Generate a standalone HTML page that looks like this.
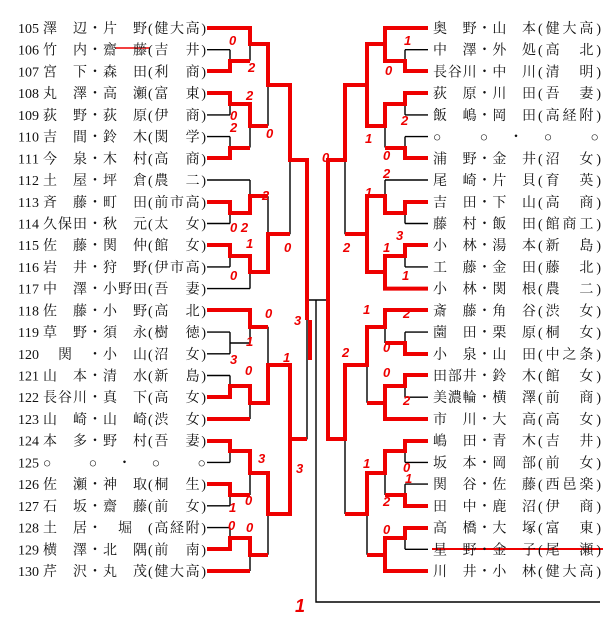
<!DOCTYPE html>
<html><head><meta charset="utf-8"><style>
html,body{margin:0;padding:0;background:#fff;}
svg{display:block;}
.t{font-family:"Liberation Serif","Noto Serif CJK SC","Noto Sans CJK JP",serif;font-size:14px;fill:#111;}
.n{font-family:"Liberation Serif",serif;font-size:14px;fill:#111;}
.r{font-family:"Liberation Sans",sans-serif;font-size:13px;fill:#e00;font-style:italic;font-weight:bold;}
</style></head><body>
<svg width="608" height="624" viewBox="0 0 608 624" xmlns="http://www.w3.org/2000/svg">
<defs>
<g id="br" fill="none" stroke="#000" stroke-width="1.4">
<path d="M207 28H250M207 49.7H230M207 71.4H230M207 93.2H230M207 114.9H230M207 136.6H230M207 158.3H230M207 180H250M207 201.8H230M207 223.5H230M207 245.2H230M207 266.9H230M207 288.6H250M207 310.4H250M207 332.1H230M207 353.8H230M207 375.5H230M207 397.2H230M207 419H250M207 440.7H230M207 462.4H230M207 484.1H230M207 505.8H230M207 527.6H230M207 549.3H230M207 571H250"/>
<path d="M230 49.7V71.4M230 60.6H250M230 93.2V114.9M230 104H250M230 136.6V158.3M230 147.5H250M230 201.8V223.5M230 212.6H250M230 245.2V266.9M230 256H250M230 332.1V353.8M230 343H250M230 375.5V397.2M230 386.4H250M230 440.7V462.4M230 451.5H250M230 484.1V505.8M230 495H250M230 527.6V549.3M230 538.4H250"/>
<path d="M250 28V60.6M250 44.3H268M250 104V147.5M250 125.8H268M250 180V212.6M250 196.3H268M250 256V288.6M250 272.3H268M250 310.4V343M250 326.7H268M250 386.4V419M250 402.7H268M250 451.5V495M250 473.3H268M250 538.4V571M250 554.7H268"/>
<path d="M268 44.3V125.8M268 85H290M268 196.3V272.3M268 234.3H290M268 326.7V402.7M268 364.7H290M268 473.3V554.7M268 514H290"/>
<path d="M290 85V234.3M290 159.7H307M290 364.7V514M290 439.4H307M307 159.7V439.4"/>
</g>
</defs>
<use href="#br"/>
<use href="#br" transform="matrix(-1,0,0,1,635,0)"/>
<path d="M307 300H316V602H600M328 300H316" fill="none" stroke="#000" stroke-width="1.4"/>

<g fill="none" stroke="#e00" stroke-width="4" stroke-linejoin="miter">
<path d="M207 28H250V44H268V85H290V160H307V320"/>
<path d="M207 71H230V61H250"/>
<path d="M207 93H230V104H250V126H268"/>
<path d="M207 158H230V148H250"/>
<path d="M207 202H230V213H250V196H268"/>
<path d="M207 245H230V256H250V272H268V234H290"/>
<path d="M207 310H250V327H268"/>
<path d="M207 397H230V386H250V403H268V365H290V439H307"/>
<path d="M207 419H250"/>
<path d="M207 441H230V451H250V473H268V514H290V439"/>
<path d="M207 484H230V495H250"/>
<path d="M207 549H230V538H250V555H268"/>
<path d="M207 571H250"/>
<path d="M310 320V360"/>
</g>
<g fill="none" stroke="#e00" stroke-width="4" transform="matrix(-1,0,0,1,635,0)">
<path d="M207 28H250V44H268V85H290V160H307V300"/>
<path d="M207 71H230V61H250V44"/>
<path d="M207 93H230V104H250V126H268V85"/>
<path d="M207 158H230V148H250"/>
<path d="M207 202H230V213H250V196H268V234H290"/>
<path d="M207 245H230V256H250V272"/>
<path d="M207 288.6H250V272H268V234"/>
<path d="M207 310H250V327H268V365H290V439H307V300"/>
<path d="M207 354H230V343H250"/>
<path d="M207 375H230V386H250V403H268"/>
<path d="M207 419H250V403"/>
<path d="M207 441H230V451H250V473H268V514H290"/>
<path d="M207 506H230V495H250"/>
<path d="M207 528H230V538H250V555H268"/>
<path d="M207 571H250V555"/>
</g>
<path d="M432 549H603" stroke="#e00" stroke-width="2"/>
<path d="M115 48H150" stroke="#e00" stroke-width="1.5"/>

<g class="n">
<text x="18" y="33" textLength="21">105</text><text x="18" y="54.7" textLength="21">106</text><text x="18" y="76.4" textLength="21">107</text><text x="18" y="98.2" textLength="21">108</text><text x="18" y="119.9" textLength="21">109</text><text x="18" y="141.6" textLength="21">110</text><text x="18" y="163.3" textLength="21">111</text><text x="18" y="185" textLength="21">112</text><text x="18" y="206.8" textLength="21">113</text><text x="18" y="228.5" textLength="21">114</text><text x="18" y="250.2" textLength="21">115</text><text x="18" y="271.9" textLength="21">116</text><text x="18" y="293.6" textLength="21">117</text><text x="18" y="315.4" textLength="21">118</text><text x="18" y="337.1" textLength="21">119</text><text x="18" y="358.8" textLength="21">120</text><text x="18" y="380.5" textLength="21">121</text><text x="18" y="402.2" textLength="21">122</text><text x="18" y="424" textLength="21">123</text><text x="18" y="445.7" textLength="21">124</text><text x="18" y="467.4" textLength="21">125</text><text x="18" y="489.1" textLength="21">126</text><text x="18" y="510.8" textLength="21">127</text><text x="18" y="532.6" textLength="21">128</text><text x="18" y="554.3" textLength="21">129</text><text x="18" y="576" textLength="21">130</text>
</g>
<g class="t" lengthAdjust="spacing">
<text x="43" y="33" textLength="104">澤　辺・片　野</text><text x="148" y="33" textLength="58">(健大高)</text>
<text x="43" y="54.7" textLength="104">竹　内・齋　藤</text><text x="148" y="54.7" textLength="58">(吉　井)</text>
<text x="43" y="76.4" textLength="104">宮　下・森　田</text><text x="148" y="76.4" textLength="58">(利　商)</text>
<text x="43" y="98.2" textLength="104">丸　澤・高　瀬</text><text x="148" y="98.2" textLength="58">(富　東)</text>
<text x="43" y="119.9" textLength="104">荻　野・荻　原</text><text x="148" y="119.9" textLength="58">(伊　商)</text>
<text x="43" y="141.6" textLength="104">吉　間・鈴　木</text><text x="148" y="141.6" textLength="58">(関　学)</text>
<text x="43" y="163.3" textLength="104">今　泉・木　村</text><text x="148" y="163.3" textLength="58">(高　商)</text>
<text x="43" y="185" textLength="104">土　屋・坪　倉</text><text x="148" y="185" textLength="58">(農　二)</text>
<text x="43" y="206.8" textLength="104">斉　藤・町　田</text><text x="148" y="206.8" textLength="58">(前市高)</text>
<text x="43" y="228.5" textLength="104">久保田・秋　元</text><text x="148" y="228.5" textLength="58">(太　女)</text>
<text x="43" y="250.2" textLength="104">佐　藤・関　仲</text><text x="148" y="250.2" textLength="58">(館　女)</text>
<text x="43" y="271.9" textLength="104">岩　井・狩　野</text><text x="148" y="271.9" textLength="58">(伊市高)</text>
<text x="43" y="293.6" textLength="104">中　澤・小野田</text><text x="148" y="293.6" textLength="58">(吾　妻)</text>
<text x="43" y="315.4" textLength="104">佐　藤・小　野</text><text x="148" y="315.4" textLength="58">(高　北)</text>
<text x="43" y="337.1" textLength="104">草　野・須　永</text><text x="148" y="337.1" textLength="58">(樹　徳)</text>
<text x="43" y="358.8" textLength="104">　関　・小　山</text><text x="148" y="358.8" textLength="58">(沼　女)</text>
<text x="43" y="380.5" textLength="104">山　本・清　水</text><text x="148" y="380.5" textLength="58">(新　島)</text>
<text x="43" y="402.2" textLength="104">長谷川・真　下</text><text x="148" y="402.2" textLength="58">(高　女)</text>
<text x="43" y="424" textLength="104">山　崎・山　崎</text><text x="148" y="424" textLength="58">(渋　女)</text>
<text x="43" y="445.7" textLength="104">本　多・野　村</text><text x="148" y="445.7" textLength="58">(吾　妻)</text>
<text x="43" y="467.4" textLength="163">○　　○　・　○　　○</text>
<text x="43" y="489.1" textLength="104">佐　瀬・神　取</text><text x="148" y="489.1" textLength="58">(桐　生)</text>
<text x="43" y="510.8" textLength="104">石　坂・齋　藤</text><text x="148" y="510.8" textLength="58">(前　女)</text>
<text x="43" y="532.6" textLength="104">土　居・　堀　</text><text x="148" y="532.6" textLength="58">(高経附)</text>
<text x="43" y="554.3" textLength="104">横　澤・北　隅</text><text x="148" y="554.3" textLength="58">(前　南)</text>
<text x="43" y="576" textLength="104">芹　沢・丸　茂</text><text x="148" y="576" textLength="58">(健大高)</text>

<text x="433" y="33" textLength="103">奥　野・山　本</text><text x="538" y="33" textLength="63">(健大高)</text>
<text x="433" y="54.7" textLength="103">中　澤・外　処</text><text x="538" y="54.7" textLength="63">(高　北)</text>
<text x="433" y="76.4" textLength="103">長谷川・中　川</text><text x="538" y="76.4" textLength="63">(清　明)</text>
<text x="433" y="98.2" textLength="103">荻　原・川　田</text><text x="538" y="98.2" textLength="63">(吾　妻)</text>
<text x="433" y="119.9" textLength="103">飯　嶋・岡　田</text><text x="538" y="119.9" textLength="63">(高経附)</text>
<text x="433" y="141.6" textLength="166">○　　○　・　○　　○</text>
<text x="433" y="163.3" textLength="103">浦　野・金　井</text><text x="538" y="163.3" textLength="63">(沼　女)</text>
<text x="433" y="185" textLength="103">尾　崎・片　貝</text><text x="538" y="185" textLength="63">(育　英)</text>
<text x="433" y="206.8" textLength="103">吉　田・下　山</text><text x="538" y="206.8" textLength="63">(高　商)</text>
<text x="433" y="228.5" textLength="103">藤　村・飯　田</text><text x="538" y="228.5" textLength="63">(館商工)</text>
<text x="433" y="250.2" textLength="103">小　林・湯　本</text><text x="538" y="250.2" textLength="63">(新　島)</text>
<text x="433" y="271.9" textLength="103">工　藤・金　田</text><text x="538" y="271.9" textLength="63">(藤　北)</text>
<text x="433" y="293.6" textLength="103">小　林・関　根</text><text x="538" y="293.6" textLength="63">(農　二)</text>
<text x="433" y="315.4" textLength="103">斎　藤・角　谷</text><text x="538" y="315.4" textLength="63">(渋　女)</text>
<text x="433" y="337.1" textLength="103">薗　田・栗　原</text><text x="538" y="337.1" textLength="63">(桐　女)</text>
<text x="433" y="358.8" textLength="103">小　泉・山　田</text><text x="538" y="358.8" textLength="63">(中之条)</text>
<text x="433" y="380.5" textLength="103">田部井・鈴　木</text><text x="538" y="380.5" textLength="63">(館　女)</text>
<text x="433" y="402.2" textLength="103">美濃輪・横　澤</text><text x="538" y="402.2" textLength="63">(前　商)</text>
<text x="433" y="424" textLength="103">市　川・大　高</text><text x="538" y="424" textLength="63">(高　女)</text>
<text x="433" y="445.7" textLength="103">嶋　田・青　木</text><text x="538" y="445.7" textLength="63">(吉　井)</text>
<text x="433" y="467.4" textLength="103">坂　本・岡　部</text><text x="538" y="467.4" textLength="63">(前　女)</text>
<text x="433" y="489.1" textLength="103">関　谷・佐　藤</text><text x="538" y="489.1" textLength="63">(西邑楽)</text>
<text x="433" y="510.8" textLength="103">田　中・鹿　沼</text><text x="538" y="510.8" textLength="63">(伊　商)</text>
<text x="433" y="532.6" textLength="103">高　橋・大　塚</text><text x="538" y="532.6" textLength="63">(富　東)</text>
<text x="433" y="554.3" textLength="103">星　野・金　子</text><text x="538" y="554.3" textLength="63">(尾　瀬)</text>
<text x="433" y="576" textLength="103">川　井・小　林</text><text x="538" y="576" textLength="63">(健大高)</text>
</g>

<g class="r">
<text x="229" y="45">0</text><text x="248" y="72">2</text><text x="246" y="100">2</text><text x="230" y="120">0</text><text x="230" y="132">2</text><text x="266" y="138">0</text>
<text x="262" y="200">2</text><text x="230" y="232">0 2</text><text x="246" y="248">1</text><text x="230" y="280">0</text><text x="284" y="252">0</text>
<text x="265" y="318">0</text><text x="246" y="346">1</text><text x="230" y="364">3</text><text x="283" y="362">1</text><text x="245" y="375">0</text><text x="294" y="325">3</text>
<text x="258" y="463">3</text><text x="296" y="473">3</text><text x="245" y="505">0</text><text x="229" y="512">1</text><text x="228" y="530">0</text><text x="246" y="532">0</text>
<text x="322" y="162">0</text>
<text x="404" y="45">1</text><text x="385" y="75">0</text><text x="401" y="125">2</text><text x="365" y="143">1</text><text x="383" y="160">0</text><text x="383" y="178">2</text><text x="365" y="197">1</text><text x="396" y="240">3</text><text x="343" y="252">2</text><text x="383" y="252">1</text><text x="402" y="280">1</text>
<text x="403" y="318">2</text><text x="363" y="314">1</text><text x="383" y="352">0</text><text x="342" y="357">2</text><text x="383" y="377">0</text><text x="403" y="405">2</text><text x="363" y="468">1</text><text x="403" y="472">0</text><text x="405" y="483">1</text><text x="383" y="506">2</text><text x="383" y="534">0</text>
<text x="295" y="612" style="font-size:18px">1</text>
</g>
</svg>
</body></html>
